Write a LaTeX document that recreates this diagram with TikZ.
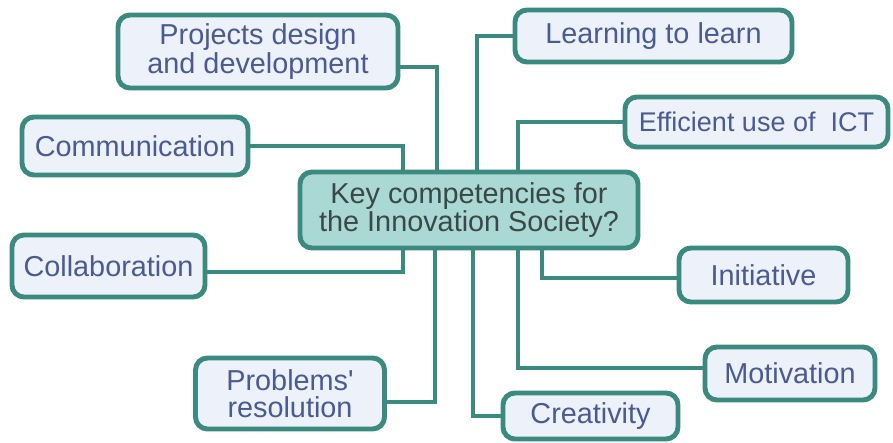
\documentclass[tikz,border=0pt]{standalone}
\usepackage{fontspec}
\setmainfont{Liberation Sans}
\usepackage{tikz}
\usetikzlibrary{calc}
\definecolor{teal line}{HTML}{3A8A80}
\definecolor{topic fill}{HTML}{ECF1FA}
\definecolor{topic text}{HTML}{4A5A92}
\definecolor{key fill}{HTML}{AAD8D5}
\definecolor{key text}{HTML}{3A4848}
\tikzset{
% Two node styles for the map: the outer topics and the central question
topic node/.style={draw=teal line,line width=3.5pt,rounded corners=8.5pt,fill=topic fill,
  text=topic text,align=center,inner sep=1pt,font=\fontsize{20.5}{19}\selectfont},
key node/.style={topic node,fill=key fill,text=key text},
link/.style={draw=teal line,line width=2.85pt}
}

\begin{document}
\begin{tikzpicture}[x=0.025cm,y=-0.025cm]
      % Fix the frame of the picture
      \useasboundingbox[fill=white] (0,0) rectangle (893,442);
      % The central question
      \node(key)[key node,minimum width=338*0.025cm,minimum height=76*0.025cm] at (469,210)
        {Key competencies for\\the Innovation Society?};
      % Upper topics
      \node(projects)[topic node,minimum width=280*0.025cm,minimum height=73*0.025cm] at (258,51.5)
        {Projects design\\and development};
      \node(comm)[topic node,minimum width=226*0.025cm,minimum height=58*0.025cm] at (135,146)
        {Communication};
      \node(learn)[topic node,minimum width=277*0.025cm,minimum height=52*0.025cm] at (653.5,36)
        {Learning to learn};
      \node(ict)[topic node,minimum width=263*0.025cm,minimum height=50*0.025cm,
        font=\fontsize{19.2}{19}\selectfont] at (756.5,122)
        {Efficient use of \ ICT};
      % Lower topics
      \node(collab)[topic node,minimum width=193*0.025cm,minimum height=62*0.025cm] at (108.5,266)
        {Collaboration};
      \node(problems)[topic node,minimum width=189*0.025cm,minimum height=71*0.025cm] at (290,393.5)
        {Problems\textquotesingle\\resolution};
      \node(creat)[topic node,minimum width=175*0.025cm,minimum height=46*0.025cm] at (590.5,416)
        {Creativity};
      \node(init)[topic node,minimum width=169*0.025cm,minimum height=54*0.025cm] at (763.5,275)
        {Initiative};
      \node(motiv)[topic node,minimum width=170*0.025cm,minimum height=53*0.025cm] at (790,373.5)
        {Motivation};
      % Connectors into the top of the question
      \draw[link] ($(projects.east)+(0,15.5)$) -| ($(key.north)+(-32,0)$);
      \draw[link] (comm.east) -| ($(key.north)+(-66,0)$);
      \draw[link] (learn.west) -| ($(key.north)+(8,0)$);
      \draw[link] (ict.west) -| ($(key.north)+(49,0)$);
      % Connectors out of the bottom of the question
      \draw[link] ($(collab.east)+(0,6)$) -| ($(key.south)+(-66,0)$);
      \draw[link] ($(problems.east)+(0,8.5)$) -| ($(key.south)+(-34,0)$);
      \draw[link] (creat.west) -| ($(key.south)+(4,0)$);
      \draw[link] ($(init.west)+(0,3)$) -| ($(key.south)+(73,0)$);
      \draw[link] ($(motiv.west)+(0,-5.5)$) -| ($(key.south)+(49,0)$);
    \end{tikzpicture}
\end{document}
